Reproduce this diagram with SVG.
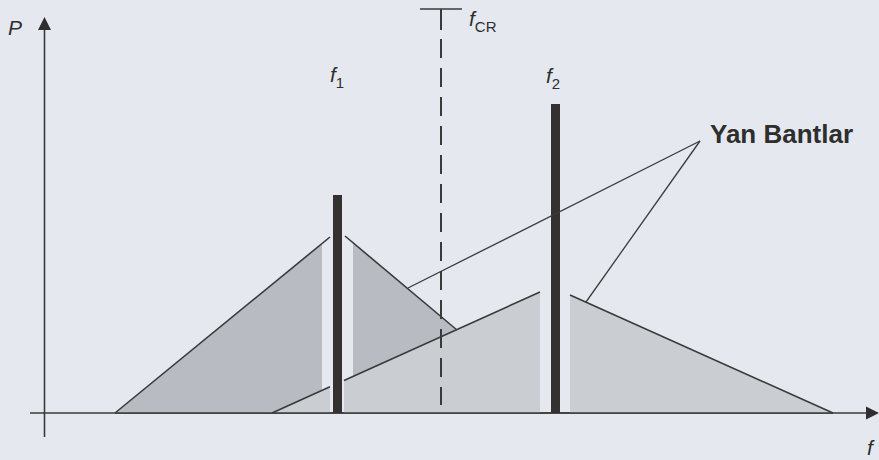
<svg xmlns="http://www.w3.org/2000/svg" width="879" height="460" viewBox="0 0 879 460">
<style>
.lbl{font-family:"Liberation Sans",Arial,sans-serif;fill:#2e2e2e}
.it{font-style:italic}
.edge{stroke:#3a3a3a;stroke-width:1.6;fill:none}
.ptr{stroke:#3a3a3a;stroke-width:1.3;fill:none}
.bar{fill:#353131}
.fa{fill:#b8bbc1}
.fb{fill:#cacdd2}
.axis{stroke:#3a3a3a;stroke-width:1.6;fill:none}
</style>
<rect width="879" height="460" fill="#e5e9ef"/>
<g id="axes">
  <line class="axis" x1="44.5" y1="28" x2="44.5" y2="437"/>
  <polygon points="44.5,17 38,30 51,30" fill="#2e2e2e"/>
  <line class="axis" x1="30" y1="413" x2="868" y2="413"/>
  <polygon points="879,413 866,406.5 866,419.5" fill="#2e2e2e"/>
  <text class="lbl it" x="8" y="35" font-size="21">P</text>
  <text class="lbl it" x="867" y="455" font-size="21">f</text>
</g>
<g id="sidebands">
  <polygon class="fa" points="115,413 322,243.5 322,413"/>
  <polygon class="fa" points="353,242.7 540,399.6 540,413 353,413"/>
  <polygon class="fb" points="272,413 330,386.8 330,413"/>
  <polygon class="fb" points="344,380.5 540,292 540,413 344,413"/>
  <polygon class="fb" points="570,295 833,413 570,413"/>
  <line class="edge" x1="115" y1="413" x2="330" y2="237"/>
  <line class="edge" x1="345" y1="236" x2="457" y2="330"/>
  <line class="edge" x1="272" y1="413" x2="330" y2="386.8"/>
  <line class="edge" x1="344" y1="380.5" x2="540" y2="292"/>
  <line class="edge" x1="570" y1="295" x2="833" y2="413"/>
  <line class="axis" x1="115" y1="413" x2="833" y2="413"/>
</g>
<g id="f1">
  <rect class="bar" x="333" y="195" width="9" height="218"/>
  <text class="lbl" x="330" y="82" font-size="21"><tspan class="it">f</tspan><tspan font-size="15" dy="6">1</tspan></text>
</g>
<g id="f2">
  <rect class="bar" x="551" y="104" width="9" height="309"/>
  <text class="lbl" x="546" y="83" font-size="21"><tspan class="it">f</tspan><tspan font-size="15" dy="6">2</tspan></text>
</g>
<g id="fCR">
  <line x1="420" y1="9" x2="462" y2="9" stroke="#3a3a3a" stroke-width="1.5"/>
  <line x1="441" y1="9" x2="441" y2="30" stroke="#3a3a3a" stroke-width="2"/>
  <line x1="441" y1="39" x2="441" y2="405" stroke="#3a3a3a" stroke-width="2" stroke-dasharray="19 10"/>
  <text class="lbl" x="469" y="26" font-size="21"><tspan class="it">f</tspan><tspan font-size="15" dy="6">CR</tspan></text>
</g>
<g id="yan-bantlar">
  <text class="lbl" x="710" y="143" font-size="26" font-weight="bold">Yan Bantlar</text>
</g>
<g id="connectors">
  <line class="ptr" x1="700" y1="141" x2="408" y2="288"/>
  <line class="ptr" x1="700" y1="141" x2="586" y2="302"/>
</g>
</svg>
